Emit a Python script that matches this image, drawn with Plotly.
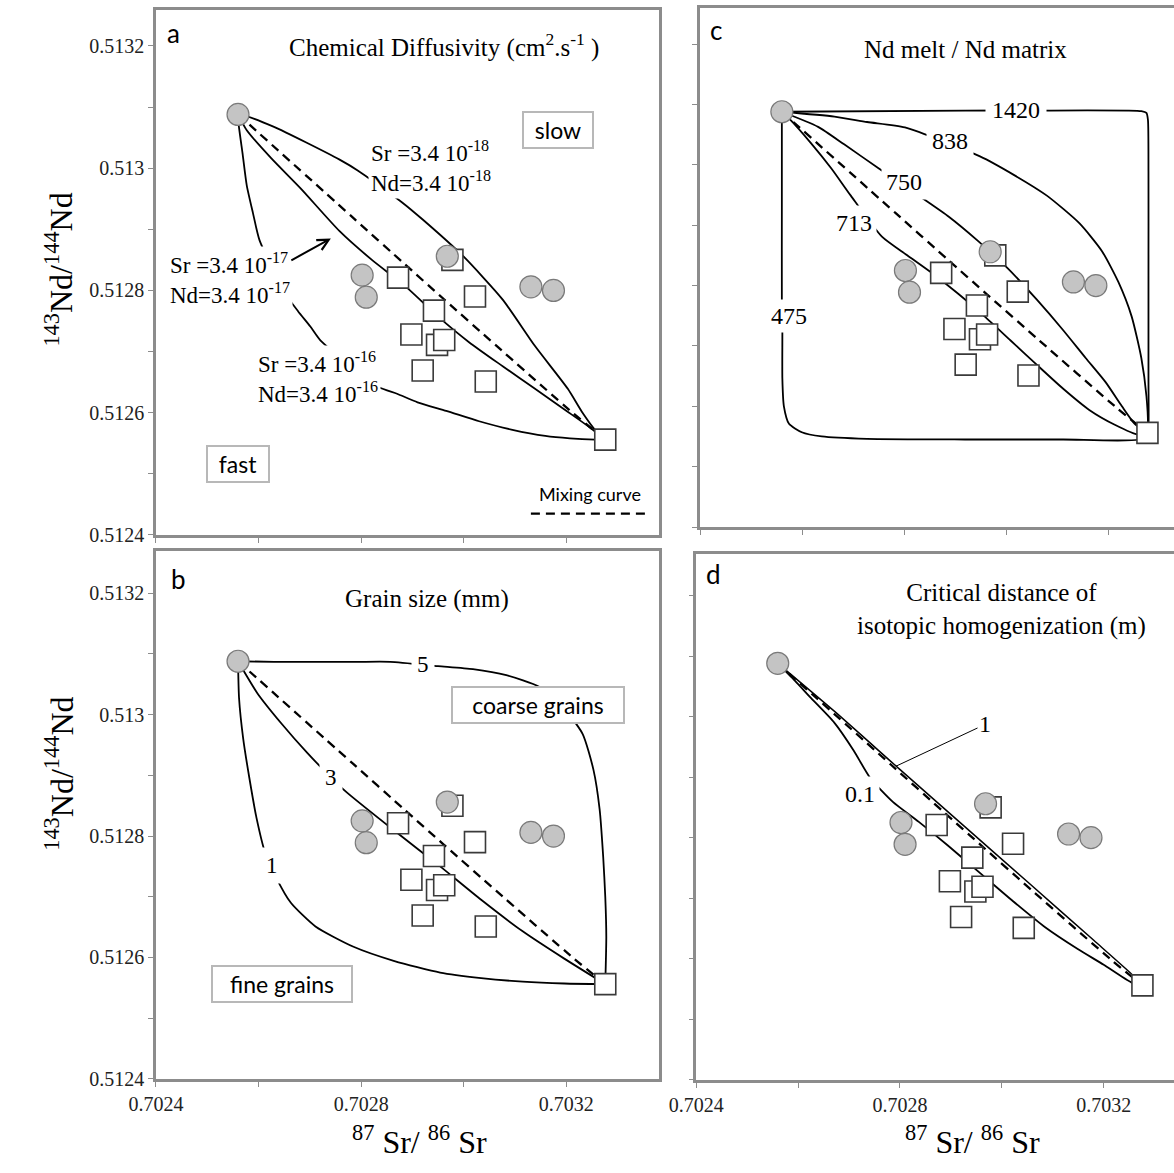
import plotly.graph_objects as go

# ---------------- data ----------------
END_CIRCLE_X = [0.70256]
END_CIRCLE_Y = [0.513088]
END_SQUARE_X = [0.703276]
END_SQUARE_Y = [0.512556]

CIRCLE_X = [0.702802, 0.70281, 0.702968, 0.703131, 0.703175]
CIRCLE_Y = [0.512825, 0.512789, 0.512856, 0.512806, 0.5128]

SQUARE_X = [0.702872, 0.702978, 0.702942, 0.703022, 0.702898, 0.702948, 0.702962, 0.70292, 0.703043]
SQUARE_Y = [0.512821, 0.51285, 0.512767, 0.51279, 0.512728, 0.512711, 0.512719, 0.512669, 0.512651]

MIX_X = [0.70256, 0.702783, 0.702885, 0.702961, 0.703063, 0.703215, 0.703276]
MIX_Y = [0.513088, 0.51292, 0.512843, 0.512786, 0.51271, 0.512598, 0.512556]

# panel a : chemical diffusivity
A_SLOW_X = [0.70256, 0.702577, 0.702629, 0.702693, 0.702758, 0.702794, 0.70288, 0.70292, 0.702999, 0.703076, 0.703139, 0.703203, 0.70323, 0.703257, 0.703276]
A_SLOW_Y = [0.513088, 0.513085, 0.513068, 0.513042, 0.513014, 0.512996, 0.512944, 0.512916, 0.512856, 0.512785, 0.512709, 0.512639, 0.512602, 0.512571, 0.512556]
A_MID_X = [0.70256, 0.702577, 0.702625, 0.702682, 0.702758, 0.702821, 0.702886, 0.702949, 0.703011, 0.703076, 0.703139, 0.703202, 0.703244, 0.703276]
A_MID_Y = [0.513088, 0.513062, 0.513016, 0.512967, 0.512897, 0.51285, 0.512807, 0.512758, 0.512715, 0.512676, 0.512639, 0.512602, 0.512577, 0.512556]
A_FAST_X = [0.70256, 0.702561, 0.702569, 0.702577, 0.702589, 0.702602, 0.702653, 0.702677, 0.702701, 0.702721, 0.702834, 0.70287, 0.70291, 0.702966, 0.70303, 0.703095, 0.703159, 0.703207, 0.703256, 0.703276]
A_FAST_Y = [0.513088, 0.513073, 0.513023, 0.512972, 0.512927, 0.512882, 0.512794, 0.512766, 0.512741, 0.512718, 0.512642, 0.512631, 0.512617, 0.512603, 0.512586, 0.512572, 0.512562, 0.512558, 0.512556, 0.512556]

# panel b : grain size
B_5_X = [0.70256, 0.70263, 0.702711, 0.702792, 0.702857, 0.70295, 0.703018, 0.703083, 0.703147, 0.703196, 0.703232, 0.703253, 0.703265, 0.703272, 0.703276, 0.703278, 0.703276]
B_5_Y = [0.513088, 0.513087, 0.513087, 0.513087, 0.513087, 0.51308, 0.513075, 0.513065, 0.513046, 0.51301, 0.512968, 0.512909, 0.512844, 0.512765, 0.5127, 0.512634, 0.512556]
B_3_X = [0.70256, 0.702598, 0.702645, 0.702695, 0.702742, 0.702772, 0.702875, 0.702954, 0.703034, 0.703115, 0.703196, 0.703276]
B_3_Y = [0.513088, 0.513035, 0.512985, 0.512937, 0.512896, 0.512872, 0.512802, 0.51275, 0.512695, 0.512643, 0.512598, 0.512556]
B_1_X = [0.70256, 0.702562, 0.70257, 0.702582, 0.702596, 0.702613, 0.702634, 0.702663, 0.702711, 0.702784, 0.702865, 0.702954, 0.703034, 0.703115, 0.703196, 0.703276]
B_1_Y = [0.513088, 0.513027, 0.512961, 0.512896, 0.51283, 0.512772, 0.512732, 0.51269, 0.512651, 0.512618, 0.512594, 0.512575, 0.512566, 0.51256, 0.512557, 0.512556]

# panel c : Nd melt / Nd matrix
C_1420_X = [0.70256, 0.702919, 0.703085, 0.703238, 0.703264, 0.703274, 0.703277, 0.703278, 0.703278, 0.703278, 0.703278, 0.703276]
C_1420_Y = [0.513088, 0.51309, 0.51309, 0.51309, 0.513089, 0.513086, 0.513074, 0.512989, 0.512817, 0.512646, 0.512566, 0.512556]
C_838_X = [0.70256, 0.702663, 0.702727, 0.702801, 0.702948, 0.703015, 0.703079, 0.703143, 0.703187, 0.703219, 0.703245, 0.703264, 0.703274, 0.703277, 0.703276]
C_838_Y = [0.513088, 0.51308, 0.513071, 0.513062, 0.513014, 0.512983, 0.512949, 0.512903, 0.512857, 0.512806, 0.512749, 0.51268, 0.512617, 0.512566, 0.512556]
C_750_X = [0.70256, 0.702631, 0.702682, 0.70275, 0.702833, 0.702887, 0.702944, 0.703002, 0.703059, 0.703111, 0.703155, 0.703194, 0.703226, 0.703251, 0.703276]
C_750_Y = [0.513088, 0.513063, 0.513034, 0.512994, 0.512946, 0.512914, 0.512874, 0.512829, 0.512777, 0.512726, 0.51268, 0.51264, 0.5126, 0.512571, 0.512556]
C_713_X = [0.70256, 0.702574, 0.702619, 0.702657, 0.702695, 0.702756, 0.702804, 0.702855, 0.702906, 0.702957, 0.703008, 0.703059, 0.703111, 0.703162, 0.703213, 0.703258, 0.703276]
C_713_Y = [0.513088, 0.513077, 0.513034, 0.512994, 0.512949, 0.512881, 0.512851, 0.51282, 0.512786, 0.512749, 0.512709, 0.512669, 0.512629, 0.512594, 0.512569, 0.512553, 0.512556]
C_475_X = [0.70256, 0.70256, 0.70256, 0.702561, 0.702561, 0.702564, 0.702574, 0.702599, 0.702638, 0.702727, 0.702919, 0.703111, 0.703258, 0.703276]
C_475_Y = [0.513088, 0.512931, 0.512777, 0.512726, 0.512646, 0.5126, 0.512571, 0.512557, 0.51255, 0.512546, 0.512545, 0.512545, 0.512545, 0.512556]

# panel d : critical distance
D_1_X = [0.70256, 0.702671, 0.702798, 0.702926, 0.703053, 0.703181, 0.703257, 0.703276]
D_1_Y = [0.513088, 0.513009, 0.512914, 0.512819, 0.512725, 0.51263, 0.512573, 0.512556]
D_01_X = [0.70256, 0.702594, 0.702626, 0.702671, 0.702709, 0.702742, 0.702786, 0.702837, 0.702894, 0.702958, 0.703022, 0.703085, 0.703149, 0.7032, 0.703254, 0.703276]
D_01_Y = [0.513088, 0.513059, 0.51303, 0.51299, 0.512944, 0.512898, 0.512859, 0.512826, 0.512787, 0.512741, 0.512695, 0.512652, 0.512616, 0.51259, 0.512561, 0.512556]

Y_TICKS = [0.5124, 0.5126, 0.5128, 0.513, 0.5132]
Y_TICK_TEXT = ["0.5124", "0.5126", "0.5128", "0.513", "0.5132"]
X_TICKS = [0.7024, 0.7028, 0.7032]
X_TICK_TEXT = ["0.7024", "0.7028", "0.7032"]

SERIF = "Liberation Serif"
SANS = "Lato"
AXC = "#8c8c8c"

fig = go.Figure()

P = {"a": ("x", "y"), "b": ("x2", "y2"), "c": ("x3", "y3"), "d": ("x4", "y4")}


def curve(xs, ys, p, dash=None, width=1.8):
    fig.add_trace(go.Scatter(
        x=xs, y=ys, mode="lines", xaxis=P[p][0], yaxis=P[p][1],
        line=dict(color="black", width=width, dash=dash or "solid",
                  shape="spline", smoothing=0.6),
        hoverinfo="skip", showlegend=False))


def points(p):
    fig.add_trace(go.Scatter(
        x=SQUARE_X + END_SQUARE_X, y=SQUARE_Y + END_SQUARE_Y, mode="markers",
        xaxis=P[p][0], yaxis=P[p][1],
        marker=dict(symbol="square", size=21, color="white",
                    line=dict(color="#3a3a3a", width=1.6)),
        hoverinfo="skip", showlegend=False))
    fig.add_trace(go.Scatter(
        x=CIRCLE_X + END_CIRCLE_X, y=CIRCLE_Y + END_CIRCLE_Y, mode="markers",
        xaxis=P[p][0], yaxis=P[p][1],
        marker=dict(symbol="circle", size=22, color="#c4c4c4",
                    line=dict(color="#7a7a7a", width=1.2)),
        hoverinfo="skip", showlegend=False))


# panel a
curve(MIX_X, MIX_Y, "a", dash="9px,6px", width=2.3)
curve(A_SLOW_X, A_SLOW_Y, "a")
curve(A_MID_X, A_MID_Y, "a")
curve(A_FAST_X, A_FAST_Y, "a")
points("a")
# panel b
curve(MIX_X, MIX_Y, "b", dash="9px,6px", width=2.3)
curve(B_5_X, B_5_Y, "b")
curve(B_3_X, B_3_Y, "b")
curve(B_1_X, B_1_Y, "b")
points("b")
# panel c
curve(MIX_X, MIX_Y, "c", dash="9px,6px", width=2.3)
for cx, cy in [(C_1420_X, C_1420_Y), (C_838_X, C_838_Y), (C_750_X, C_750_Y),
               (C_713_X, C_713_Y), (C_475_X, C_475_Y)]:
    curve(cx, cy, "c")
points("c")
# panel d
curve(MIX_X, MIX_Y, "d", dash="9px,6px", width=2.3)
curve(D_1_X, D_1_Y, "d", width=1.5)
curve(D_01_X, D_01_Y, "d")
points("d")

tickfont = dict(family=SERIF, size=20, color="#222")


def xax(domain, rng, anchor, labels):
    d = dict(domain=domain, range=rng, anchor=anchor, showline=True, linecolor=AXC,
             linewidth=2.5, mirror=True, ticks="outside", ticklen=5, tickwidth=1.2,
             tickcolor=AXC, showgrid=False, zeroline=False, fixedrange=True,
             tickfont=tickfont)
    if labels:
        d.update(tickmode="array", tickvals=X_TICKS, ticktext=X_TICK_TEXT,
                 minor=dict(tickmode="linear", tick0=0.7024, dtick=0.0002,
                            ticks="outside", ticklen=5, tickwidth=1.2, tickcolor=AXC))
    else:
        d.update(tickmode="linear", tick0=0.7024, dtick=0.0002, showticklabels=False)
    return d


def yax(domain, rng, anchor, labels, mirror):
    d = dict(domain=domain, range=rng, anchor=anchor, showline=True, linecolor=AXC,
             linewidth=2.5, mirror=mirror, ticks="outside", ticklen=5, tickwidth=1.2,
             tickcolor=AXC, showgrid=False, zeroline=False, fixedrange=True,
             tickfont=tickfont, tickmode="array", tickvals=Y_TICKS, ticktext=Y_TICK_TEXT,
             showticklabels=labels,
             minor=dict(tickmode="linear", tick0=0.5124, dtick=0.0001,
                        ticks="outside", ticklen=5, tickwidth=1.2, tickcolor=AXC))
    return d


fig.update_layout(
    width=1174, height=1173, autosize=False,
    margin=dict(l=0, r=0, t=0, b=0),
    paper_bgcolor="white", plot_bgcolor="white",
    xaxis=xax([0.11244, 0.55111], [0.7024, 0.703381], "y", False),
    yaxis=yax([0.53964, 0.99147], [0.5124, 0.513259], "x", True, True),
    xaxis2=xax([0.11244, 0.55111], [0.7024, 0.703381], "y2", True),
    yaxis2=yax([0.07161, 0.52600], [0.5124, 0.51327], "x2", True, True),
    xaxis3=xax([0.58688, 1.0], [0.7024, 0.703328], "y3", False),
    yaxis3=yax([0.54646, 0.99318], [0.5124, 0.51326], "x3", False, False),
    xaxis4=xax([0.58348, 1.0], [0.7024, 0.703338], "y4", True),
    yaxis4=yax([0.07076, 0.52344], [0.5124, 0.513269], "x4", False, False),
)

ann = []


def txt(p, x, y, text, size=23, family=SERIF, bg=None, pad=0, **kw):
    d = dict(xref=P[p][0], yref=P[p][1], x=x, y=y, text=text, showarrow=False,
             xanchor="center", yanchor="middle",
             font=dict(family=family, size=size, color="black"))
    if bg:
        d.update(bgcolor=bg, borderpad=pad)
    d.update(kw)
    ann.append(d)


def boxed(p, x, y, text, w, size=23):
    ann.append(dict(xref=P[p][0], yref=P[p][1], x=x, y=y, text=text, showarrow=False,
                    xanchor="center", yanchor="middle",
                    font=dict(family=SANS, size=size, color="black"), width=w, height=28,
                    bgcolor="white", bordercolor="#b8b8b8", borderwidth=2, borderpad=3))


# panel a texts
txt("a", 0.702417, 0.513222, "a", size=26, family=SANS, xanchor="left")
txt("a", 0.702962, 0.5132, "Chemical Diffusivity (cm<sup>2</sup>.s<sup>-1</sup> )", size=25)
boxed("a", 0.703184, 0.513062, "slow", 62)
boxed("a", 0.702559, 0.512516, "fast", 54)
txt("a", 0.702814, 0.513003, "Sr =3.4 10<sup>-18</sup><br>Nd=3.4 10<sup>-18</sup>",
    bg="white", pad=2, xanchor="left", align="left")
txt("a", 0.702421, 0.51282, "Sr =3.4 10<sup>-17</sup><br>Nd=3.4 10<sup>-17</sup>",
    bg="white", pad=2, xanchor="left", align="left")
txt("a", 0.702594, 0.512658, "Sr =3.4 10<sup>-16</sup><br>Nd=3.4 10<sup>-16</sup>",
    bg="white", pad=2, xanchor="left", align="left")
txt("a", 0.703247, 0.512467, "Mixing curve", size=18, family=SANS)
ann.append(dict(xref="x", yref="y", axref="x", ayref="y", x=0.702741, y=0.512885,
                ax=0.702661, ay=0.512848, text="", showarrow=True, arrowhead=5,
                arrowsize=1.1, arrowwidth=2, arrowcolor="black"))

# panel b texts
txt("b", 0.702425, 0.513223, "b", size=26, family=SANS, xanchor="left")
txt("b", 0.702929, 0.513191, "Grain size (mm)", size=25)
boxed("b", 0.703144, 0.513016, "coarse grains", 164)
boxed("b", 0.702646, 0.512556, "fine grains", 132)
txt("b", 0.70292, 0.513082, "5", bg="white", pad=5)
txt("b", 0.702742, 0.512896, "3", bg="white", pad=5)
txt("b", 0.702626, 0.512752, "1", bg="white", pad=5)

# panel c texts
txt("c", 0.702415, 0.513224, "c", size=26, family=SANS, xanchor="left")
txt("c", 0.702919, 0.513191, "Nd melt / Nd matrix", size=25)
txt("c", 0.703018, 0.513091, "1420", size=24, bg="white", pad=6)
txt("c", 0.70289, 0.51304, "838", size=24, bg="white", pad=5)
txt("c", 0.702799, 0.512971, "750", size=24, bg="white", pad=4)
txt("c", 0.702702, 0.512904, "713", size=24, bg="white", pad=4)
txt("c", 0.702574, 0.512749, "475", size=24, bg="white", pad=3)

# panel d texts
txt("d", 0.702415, 0.513236, "d", size=26, family=SANS, xanchor="left")
txt("d", 0.702999, 0.513177, "Critical distance of<br>isotopic homogenization (m)", size=25)
txt("d", 0.702721, 0.512872, "0.1", size=24, bg="white", pad=4)
ann.append(dict(xref="x4", yref="y4", axref="x4", ayref="y4", x=0.702792, y=0.512918,
                ax=0.702967, ay=0.512987, text="1", showarrow=True, arrowhead=0,
                arrowwidth=1, arrowcolor="black", standoff=0,
                font=dict(family=SERIF, size=24, color="black")))

# axis titles
ytitle = "<sup>143</sup>Nd/<sup>144</sup>Nd"
xtitle = "<sup>87</sup> Sr/ <sup>86</sup> Sr"
for yy in [0.7681, 0.3342]:
    ann.append(dict(xref="paper", yref="paper", x=0.028, y=yy, text=ytitle, textangle=-90,
                    xanchor="center", yanchor="middle",
                    showarrow=False, font=dict(family=SERIF, size=32, color="black")))
for xx, yy in [(0.3424, 0.0), (0.8245, 0.0)]:
    ann.append(dict(xref="paper", yref="paper", x=xx, y=yy, text=xtitle, showarrow=False,
                    xanchor="center", yanchor="bottom",
                    font=dict(family=SERIF, size=32, color="black")))

fig.update_layout(annotations=ann)

# legend swatch for the mixing curve
fig.add_shape(type="line", xref="x", yref="y", x0=0.703131, x1=0.703356,
              y0=0.512435, y1=0.512435, line=dict(color="black", width=2.3, dash="9px,6px"))

fig.write_html("out.html")
